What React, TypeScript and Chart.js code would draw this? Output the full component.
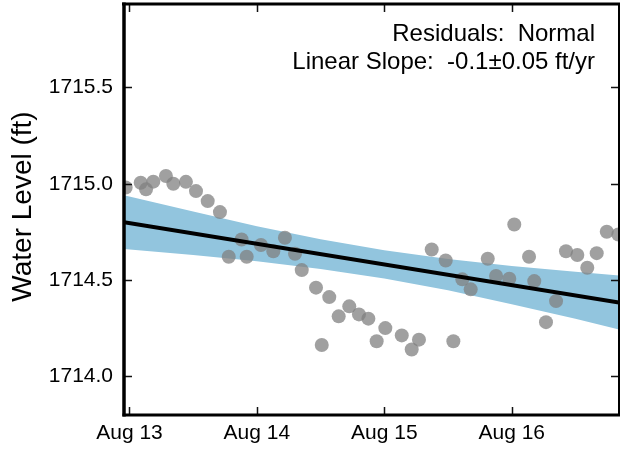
import React, { useEffect, useRef } from "react";
import { Chart, registerables } from "chart.js";

Chart.register(...registerables);

// ---- data (days since Aug 13, 00:00) ----
const tickDays = [0, 1, 2, 3];
const tickLabels = ["Aug 13", "Aug 14", "Aug 15", "Aug 16"];
const yTickValues = [1714.0, 1714.5, 1715.0, 1715.5];

const obsDays = [
  -0.03, 0.088, 0.13, 0.187, 0.286, 0.344, 0.443, 0.522, 0.614, 0.71,
  0.779, 0.88, 0.92, 1.032, 1.129, 1.22, 1.299, 1.352, 1.464, 1.509,
  1.568, 1.642, 1.725, 1.801, 1.875, 1.94, 2.008, 2.137, 2.215, 2.272,
  2.372, 2.482, 2.542, 2.612, 2.678, 2.812, 2.877, 2.981, 3.02, 3.136,
  3.177, 3.269, 3.348, 3.426, 3.515, 3.593, 3.667, 3.746, 3.837,
];
const obsLevel = [
  1714.981, 1715.005, 1714.971, 1715.011, 1715.04, 1715.0, 1715.01, 1714.962, 1714.91, 1714.853,
  1714.621, 1714.711, 1714.621, 1714.682, 1714.65, 1714.72, 1714.637, 1714.552, 1714.461, 1714.163,
  1714.412, 1714.312, 1714.364, 1714.322, 1714.3, 1714.183, 1714.251, 1714.213, 1714.14, 1714.191,
  1714.659, 1714.602, 1714.183, 1714.504, 1714.452, 1714.611, 1714.521, 1714.507, 1714.789, 1714.621,
  1714.495, 1714.282, 1714.391, 1714.65, 1714.63, 1714.564, 1714.64, 1714.751, 1714.737,
];

const bandDays = [-0.043, 0.5, 1, 1.5, 2, 2.5, 3, 3.5, 3.842];
const bandUpper = [1714.941, 1714.856, 1714.78, 1714.712, 1714.655, 1714.61, 1714.573, 1714.543, 1714.524];
const bandLower = [1714.661, 1714.63, 1714.598, 1714.558, 1714.509, 1714.447, 1714.375, 1714.299, 1714.244];

const fitDays = [-0.043, 3.842];
const fitLevel = [1714.801, 1714.384];

const annotationLines = ["Residuals:  Normal", "Linear Slope:  -0.1\u00b10.05 ft/yr"];
const yTitle = "Water Level (ft)";

const FONT = "'Liberation Sans', Arial, Helvetica, sans-serif";

const framePlugin = {
  id: "frame",
  afterDatasetsDraw(chart: any) {
    const { ctx, chartArea: a, scales } = chart;
    const xs = scales.x;
    const ys = scales.y;
    ctx.save();
    ctx.strokeStyle = "#111";
    ctx.lineWidth = 1.5;
    const tl = 8;
    ctx.beginPath();
    tickDays.forEach((d) => {
      const px = Math.round(xs.getPixelForValue(d)) + 0.5;
      ctx.moveTo(px, a.bottom);
      ctx.lineTo(px, a.bottom - tl);
      ctx.moveTo(px, a.top);
      ctx.lineTo(px, a.top + tl);
    });
    yTickValues.forEach((v) => {
      const py = Math.round(ys.getPixelForValue(v)) + 0.5;
      ctx.moveTo(a.left, py);
      ctx.lineTo(a.left + tl, py);
      ctx.moveTo(a.right, py);
      ctx.lineTo(a.right - tl, py);
    });
    ctx.stroke();

    ctx.strokeStyle = "#000";
    // top
    ctx.lineWidth = 3;
    ctx.beginPath();
    ctx.moveTo(a.left - 2, a.top);
    ctx.lineTo(a.right + 1, a.top);
    ctx.stroke();
    // right
    ctx.lineWidth = 2;
    ctx.beginPath();
    ctx.moveTo(a.right, a.top);
    ctx.lineTo(a.right, a.bottom);
    ctx.stroke();
    // left
    ctx.lineWidth = 3.5;
    ctx.beginPath();
    ctx.moveTo(a.left, a.top - 1.5);
    ctx.lineTo(a.left, a.bottom + 1.5);
    ctx.stroke();
    // bottom
    ctx.lineWidth = 3;
    ctx.beginPath();
    ctx.moveTo(a.left - 1.5, a.bottom);
    ctx.lineTo(a.right + 1, a.bottom);
    ctx.stroke();

    // annotation text
    ctx.fillStyle = "#000";
    ctx.font = `24px ${FONT}`;
    ctx.textAlign = "right";
    ctx.textBaseline = "alphabetic";
    ctx.fillText(annotationLines[0], 595, 41);
    ctx.fillText(annotationLines[1], 595, 69);

    // y title
    ctx.translate(31, 206.5);
    ctx.rotate(-Math.PI / 2);
    ctx.font = `28px ${FONT}`;
    ctx.textAlign = "center";
    ctx.fillText(yTitle, 0, 0);
    ctx.restore();
  },
};

export default function App() {
  const ref = useRef<HTMLCanvasElement | null>(null);

  useEffect(() => {
    document.body.style.margin = "0";
    const canvas = ref.current;
    if (!canvas) return;
    Chart.defaults.font.family = FONT;

    const chart = new Chart(canvas, {
      type: "line",
      data: {
        datasets: [
          {
            label: "fit",
            data: fitDays.map((d, i) => ({ x: d, y: fitLevel[i] })),
            borderColor: "#000",
            borderWidth: 4,
            pointRadius: 0,
            fill: false,
            order: 0,
            clip: 0,
          },
          {
            label: "obs",
            data: obsDays.map((d, i) => ({ x: d, y: obsLevel[i] })),
            showLine: false,
            pointRadius: 7,
            pointBorderWidth: 0,
            pointBackgroundColor: "rgba(128,128,128,0.75)",
            pointBorderColor: "rgba(0,0,0,0)",
            order: 1,
            clip: 0,
          },
          {
            label: "upper",
            data: bandDays.map((d, i) => ({ x: d, y: bandUpper[i] })),
            borderWidth: 0,
            borderColor: "rgba(0,0,0,0)",
            pointRadius: 0,
            backgroundColor: "#92c5de",
            fill: "+1",
            order: 2,
            clip: 0,
          },
          {
            label: "lower",
            data: bandDays.map((d, i) => ({ x: d, y: bandLower[i] })),
            borderWidth: 0,
            borderColor: "rgba(0,0,0,0)",
            pointRadius: 0,
            fill: false,
            order: 3,
            clip: 0,
          },
        ] as any,
      },
      options: {
        animation: false,
        responsive: false,
        devicePixelRatio: 1,
        layout: { autoPadding: false, padding: { top: 4, right: 1, left: 0, bottom: 0 } },
        plugins: {
          legend: { display: false },
          tooltip: { enabled: false },
        },
        scales: {
          x: {
            type: "linear",
            min: -0.043,
            max: 3.842,
            grid: { display: false, drawTicks: false },
            border: { display: false },
            afterBuildTicks: (s: any) => {
              s.ticks = tickDays.map((v) => ({ value: v }));
            },
            afterFit: (s: any) => {
              s.height = 35;
              s.paddingLeft = 0;
              s.paddingRight = 0;
              s.paddingTop = 0;
              s.paddingBottom = 0;
            },
            ticks: {
              autoSkip: false,
              maxRotation: 0,
              padding: 6,
              color: "#000",
              font: { size: 21, family: FONT },
              callback: (v: any) => {
                const i = tickDays.indexOf(Number(v));
                return i >= 0 ? tickLabels[i] : "";
              },
            },
          },
          y: {
            type: "linear",
            min: 1713.8,
            max: 1715.933,
            grid: { display: false, drawTicks: false },
            border: { display: false },
            afterBuildTicks: (s: any) => {
              s.ticks = yTickValues.map((v) => ({ value: v }));
            },
            afterFit: (s: any) => {
              s.width = 124;
              s.paddingLeft = 0;
              s.paddingRight = 0;
              s.paddingTop = 0;
              s.paddingBottom = 0;
            },
            ticks: {
              autoSkip: false,
              padding: 11,
              color: "#000",
              font: { size: 21, family: FONT },
              callback: (v: any) => Number(v).toFixed(1),
            },
          },
        },
      } as any,
      plugins: [framePlugin],
    });
    return () => chart.destroy();
  }, []);

  return (
    <div style={{ width: 620, height: 450, position: "relative" }}>
      <canvas ref={ref} width={620} height={450} />
    </div>
  );
}
